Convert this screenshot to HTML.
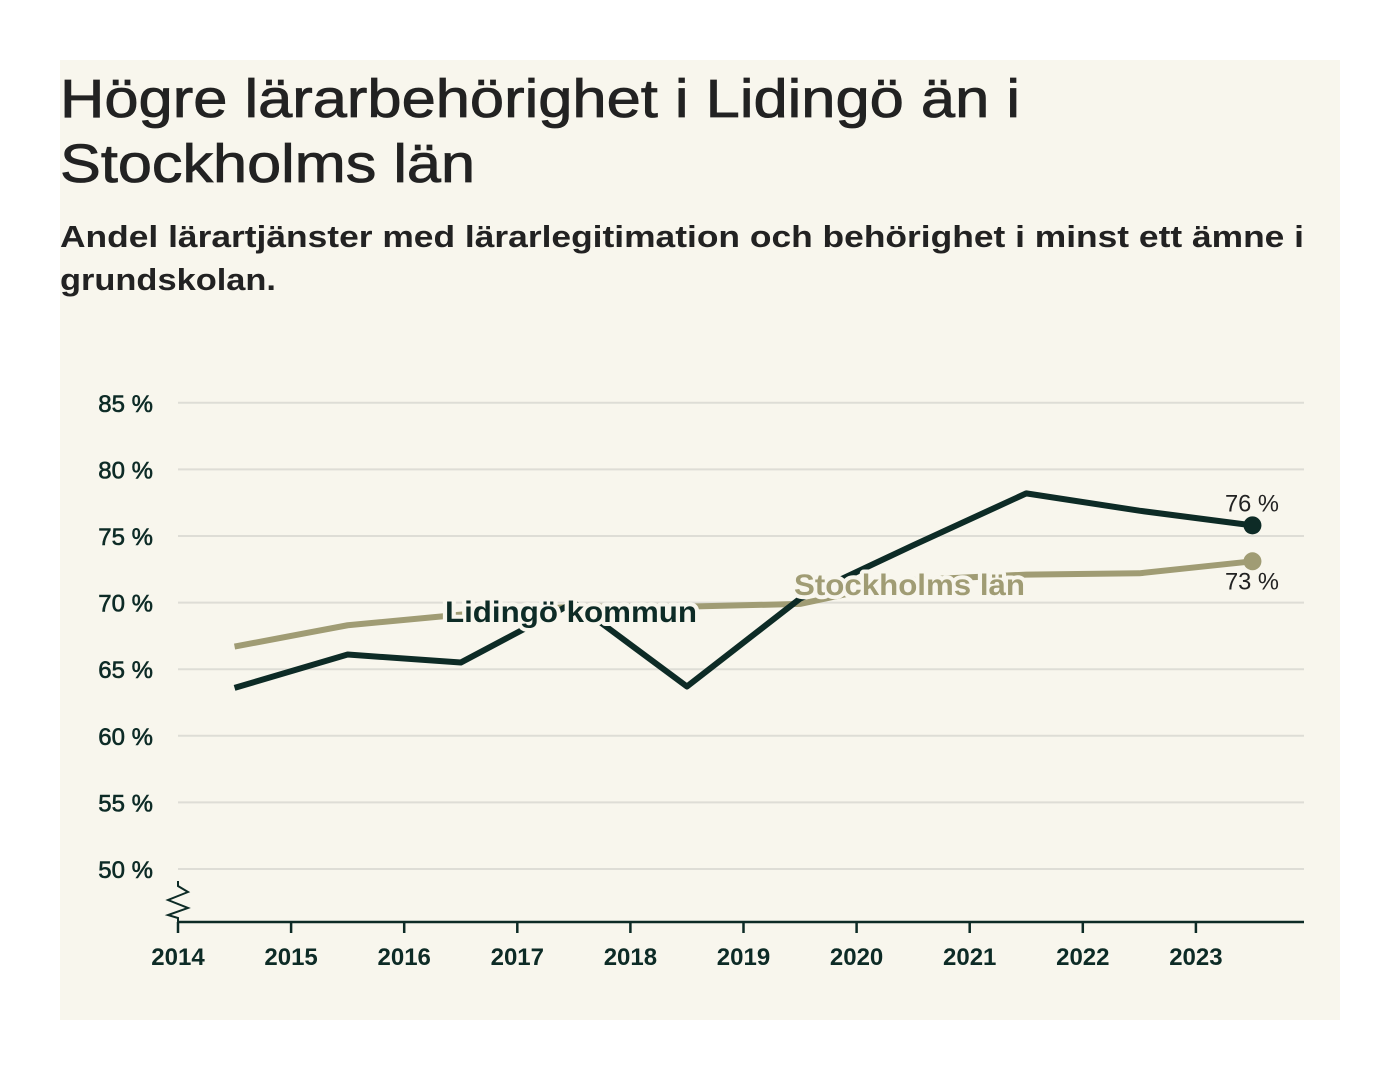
<!DOCTYPE html>
<html><head><meta charset="utf-8"><style>
html,body{margin:0;padding:0;background:#fff;}
svg{display:block;font-family:"Liberation Sans",sans-serif;}
</style></head><body>
<svg id="chart" width="1400" height="1080" viewBox="0 0 1400 1080">
<rect x="60" y="60" width="1280" height="960" fill="#f8f6ed"/>
<text font-size="54" fill="#222" font-weight="500" stroke="#222" stroke-width="0.8">
<tspan x="60" y="117" textLength="960" lengthAdjust="spacingAndGlyphs">Högre lärarbehörighet i Lidingö än i</tspan>
<tspan x="60" y="182" textLength="415" lengthAdjust="spacingAndGlyphs">Stockholms län</tspan></text>
<text font-size="31" fill="#222" font-weight="bold">
<tspan x="60" y="247" textLength="1244" lengthAdjust="spacingAndGlyphs">Andel lärartjänster med lärarlegitimation och behörighet i minst ett ämne i</tspan>
<tspan x="60" y="290" textLength="216" lengthAdjust="spacingAndGlyphs">grundskolan.</tspan></text>
<g id="grid"></g><g id="axes"></g><g id="lines"></g><g id="labels"></g>
</svg>
<script>
const years=[2014,2015,2016,2017,2018,2019,2020,2021,2022,2023];
const yTicks=[50,55,60,65,70,75,80,85];
const lidingo=[63.6,66.1,65.5,70.0,63.7,70.3,74.3,78.2,76.9,75.8];
const stockholm=[66.7,68.3,69.1,69.7,69.7,69.9,71.7,72.1,72.2,73.1];
const endLabels=["76 %","73 %"];
const NS="http://www.w3.org/2000/svg";
const X=v=>178+(v-2014)*113.1;
const Y=v=>869-(v-50)*13.32;
function mk(tag,attrs,parent,txt){const e=document.createElementNS(NS,tag);for(const k in attrs)e.setAttribute(k,attrs[k]);if(txt!==undefined)e.textContent=txt;parent.appendChild(e);return e;}
const grid=document.getElementById('grid'),axes=document.getElementById('axes'),lines=document.getElementById('lines'),labels=document.getElementById('labels');
yTicks.forEach(t=>{
 const l=mk('line',{x1:178,x2:1304,y1:Y(t),y2:Y(t),stroke:'#deddd6','stroke-width':2},grid);
 
 
 const tx=mk('text',{x:153,y:Y(t)+9,'text-anchor':'end','font-size':24,fill:'#0d2b26',stroke:'#0d2b26','stroke-width':0.6},grid,t+' %');
 
 
});
const ax=mk('line',{x1:178,x2:1304,y1:922,y2:922,stroke:'#0d2b26','stroke-width':2.5},axes);


const br=mk('path',{d:'M178,881 L178,886 L188,892 L168,900 L188,908 L168,915 L178,918 L178,922',fill:'none',stroke:'#0d2b26','stroke-width':2},axes);


years.forEach(y=>{
 const t=mk('line',{x1:X(y),x2:X(y),y1:922,y2:933,stroke:'#0d2b26','stroke-width':2.5},axes);
 
 
 const tx=mk('text',{x:X(y),y:965,'text-anchor':'middle','font-size':24,'font-weight':'bold',fill:'#0d2b26'},axes,String(y));
 
 
});
function series(vals,color,name){
 const d=vals.map((v,i)=>(i?'L':'M')+X(years[i]+0.5)+','+Y(v)).join(' ');
 const p=mk('path',{d:d,fill:'none',stroke:color,'stroke-width':6,'stroke-linejoin':'round'},lines);
 
 
 const n=vals.length-1;
 const c=mk('circle',{cx:X(years[n]+0.5),cy:Y(vals[n]),r:9,fill:color},lines);
 
 
}
series(stockholm,'#a09c74','stockholm');
series(lidingo,'#0d2b26','lidingo');
function lab(x,y,txt,color,name,size,w){
 const a={x:x,y:y,'font-size':size,fill:color,stroke:'#f8f6ed','stroke-width':8,'paint-order':'stroke','stroke-linejoin':'round'};
 if(w){a.textLength=w;a.lengthAdjust='spacingAndGlyphs';}
 const t=mk('text',a,labels,txt);
 
 
 return t;
}
const l1=lab(445,622,'Lidingö kommun','#0d2b26','lidingo-label',30,252);
l1.setAttribute('font-weight','bold');
const l2=lab(794,595,'Stockholms län','#a09c74','stockholm-label',30,231);
l2.setAttribute('font-weight','bold');
const n=years.length-1;
lab(1225,Y(lidingo[n])-14,endLabels[0],'#222','lidingo-end-label',24,54);
lab(1225,Y(stockholm[n])+28,endLabels[1],'#222','stockholm-end-label',24,54);
</script>
</body></html>
